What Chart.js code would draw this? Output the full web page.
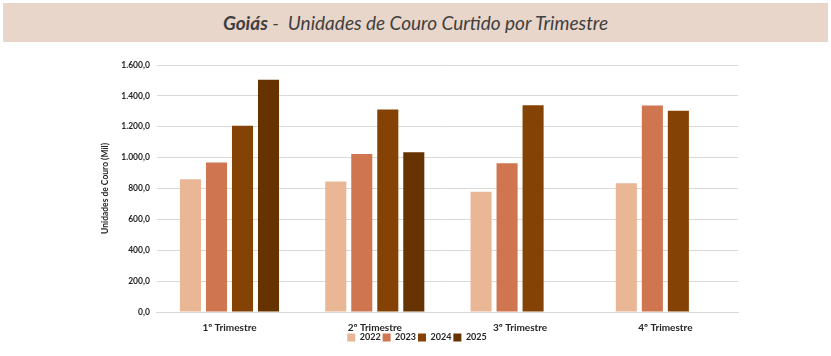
<!DOCTYPE html>
<html><head><meta charset="utf-8">
<script src="https://cdn.jsdelivr.net/npm/chart.js@4/dist/chart.umd.min.js"></script>
<style>
html,body{margin:0;padding:0;background:#fff;width:831px;height:356px;overflow:hidden}
#band{position:absolute;left:3px;top:3px;width:825px;height:39px;background:#E9D6CB;font-family:Lato,"Liberation Sans",sans-serif;font-style:italic;font-size:19px;color:#404040;text-align:center;line-height:39px}
#band b{font-weight:bold}
#wrap{position:absolute;left:0;top:0;width:831px;height:356px}
</style></head><body>
<div id="band"><b>Goiás</b> -&nbsp; Unidades de Couro Curtido por Trimestre</div>
<div id="wrap"><canvas id="c" width="831" height="356"></canvas></div>
<script>
const categories = ["1º Trimestre","2º Trimestre","3º Trimestre","4º Trimestre"];
const seriesNames = ["2022","2023","2024","2025"];
const v2022 = [860, 845, 779, 834];
const v2023 = [968, 1024, 964, 1337];
const v2024 = [1207, 1311, 1339, 1304];
const v2025 = [1504, 1035, null, null];
const colors = ["#E9B696","#CF7650","#844304","#663300"];
const values = [v2022, v2023, v2024, v2025];

const fontFam = "Lato, 'Liberation Sans', sans-serif";
new Chart(document.getElementById('c'), {
  type: 'bar',
  data: {
    labels: categories,
    datasets: seriesNames.map((n,i)=>({
      label: n, data: values[i], backgroundColor: colors[i],
      borderWidth: 0, barPercentage: 0.81, categoryPercentage: 0.716
    }))
  },
  options: {
    responsive: false, animation: false,
    layout: { padding: { left: 96, right: 93, top: 65, bottom: 4 } },
    plugins: {
      title: { display: false },
      tooltip: { enabled: false },
      legend: {
        position: 'bottom',
        labels: { boxWidth: 8, boxHeight: 8, padding: 2, color: '#262626',
          font: { family: fontFam, size: 9, weight: 'bold' } }
      }
    },
    scales: {
      x: {
        grid: { display: false },
        border: { color: '#D9D9D9' },
        ticks: { color: '#262626', font: { family: fontFam, size: 10, weight: 'bold' }, padding: 2 },
        afterFit: (scale) => { scale.height -= 5; }
      },
      y: {
        min: 0, max: 1600,
        ticks: { stepSize: 200, color: '#262626', padding: 7,
          font: { family: fontFam, size: 8.5, weight: 'bold' },
          callback: v => {
            const s = Math.round(v).toString().replace(/\B(?=(\d{3})+(?!\d))/g, '.');
            return s + ',0';
          } },
        grid: { color: '#D9D9D9', drawTicks: false },
        border: { display: false },
        title: { display: true, text: 'Unidades de Couro (Mil)', color: '#262626',
          font: { family: fontFam, size: 8.5, weight: 'bold' }, padding: 4 }
      }
    }
  }
});
</script>
</body></html>
